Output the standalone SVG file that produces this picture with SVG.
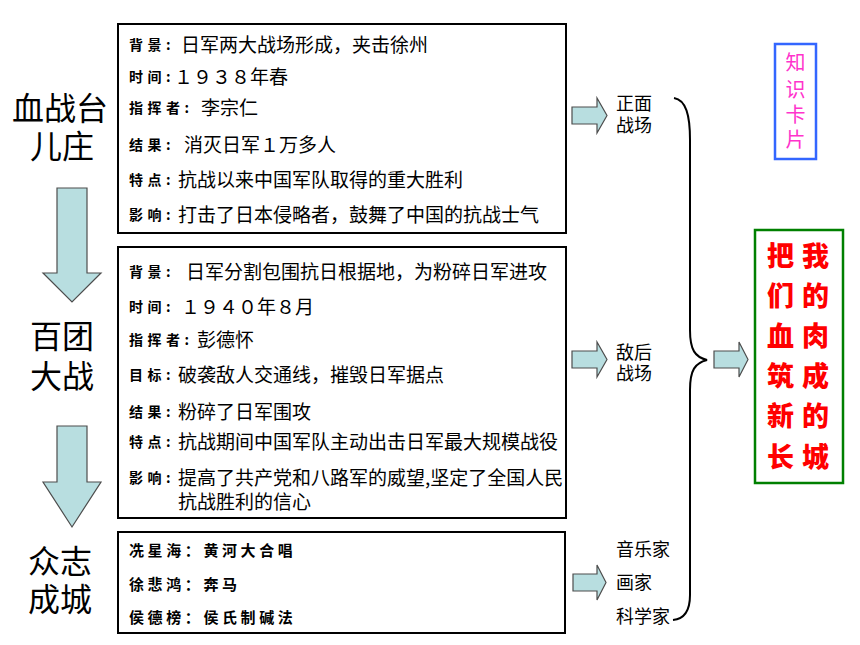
<svg xmlns="http://www.w3.org/2000/svg" width="860" height="645" viewBox="0 0 860 645">
<style>
.box{fill:#fff;stroke:#000;stroke-width:2}
.arr{fill:#B8DEE0;stroke:#4d4d4d;stroke-width:1.2}
.t{font-family:"Noto Sans CJK SC","Noto Sans",sans-serif;font-size:19px;fill:#000}
.lb{font-family:"Noto Sans CJK SC","Noto Sans",sans-serif;font-size:14px;font-weight:700;letter-spacing:4.5px;fill:#000}
.b3{font-family:"Noto Sans CJK SC","Noto Sans",sans-serif;font-size:15px;font-weight:700;letter-spacing:3.6px;fill:#000}
.big{font-family:"Noto Sans CJK SC","Noto Sans",sans-serif;font-size:32px;fill:#000;text-anchor:middle}
.side{font-family:"Noto Sans CJK SC","Noto Sans",sans-serif;font-size:18px;fill:#000}
.card{font-family:"Noto Sans CJK SC","Noto Sans",sans-serif;font-size:20px;fill:#FF33CC;text-anchor:middle}
.red{font-family:"Noto Sans CJK SC","Noto Sans",sans-serif;font-size:27px;font-weight:900;fill:#FF0000;letter-spacing:8px}
</style>
<rect width="860" height="645" fill="#fff"/>

<g id="title1">
<text class="big"><tspan x="60" y="120">血战台</tspan><tspan x="62" y="158">儿庄</tspan></text>
</g>
<g id="title2">
<text class="big"><tspan x="62" y="348">百团</tspan><tspan x="62" y="388">大战</tspan></text>
</g>
<g id="title3">
<text class="big"><tspan x="60" y="573">众志</tspan><tspan x="60" y="611">成城</tspan></text>
</g>

<g id="box1">
<rect class="box" x="118" y="24" width="448" height="209"/>
<text class="lb" x="129" y="50">背景:</text><text class="t" x="181" y="52">日军两大战场形成，夹击徐州</text>
<text class="lb" x="129" y="82">时间:</text><text class="t" x="174" y="84">１９３８年春</text>
<text class="lb" x="129" y="113">指挥者:</text><text class="t" x="201" y="115">李宗仁</text>
<text class="lb" x="129" y="150">结果:</text><text class="t" x="184" y="152">消灭日军１万多人</text>
<text class="lb" x="129" y="185">特点:</text><text class="t" x="178" y="187">抗战以来中国军队取得的重大胜利</text>
<text class="lb" x="129" y="220">影响:</text><text class="t" x="178" y="222">打击了日本侵略者，鼓舞了中国的抗战士气</text>
</g>

<g id="box2">
<rect class="box" x="118" y="247" width="448" height="271"/>
<text class="lb" x="129" y="277">背景:</text><text class="t" x="186" y="279">日军分割包围抗日根据地，为粉碎日军进攻</text>
<text class="lb" x="129" y="312">时间:</text><text class="t" x="181" y="314">１９４０年８月</text>
<text class="lb" x="129" y="345">指挥者:</text><text class="t" x="197" y="347">彭德怀</text>
<text class="lb" x="129" y="380">目标:</text><text class="t" x="178" y="382">破袭敌人交通线，摧毁日军据点</text>
<text class="lb" x="129" y="417">结果:</text><text class="t" x="178" y="419">粉碎了日军围攻</text>
<text class="lb" x="129" y="447">特点:</text><text class="t" x="178" y="449">抗战期间中国军队主动出击日军最大规模战役</text>
<text class="lb" x="129" y="483">影响:</text><text class="t"><tspan x="178" y="485">提高了共产党和八路军的威望,坚定了全国人民</tspan><tspan x="178" y="509">抗战胜利的信心</tspan></text>
</g>

<g id="box3">
<rect class="box" x="118" y="532" width="447" height="101"/>
<text class="b3" x="129" y="556">冼星海：黄河大合唱</text>
<text class="b3" x="129" y="590">徐悲鸿：奔马</text>
<text class="b3" x="129" y="623">侯德榜：侯氏制碱法</text>
</g>

<g id="label-front">
<text class="side"><tspan x="616" y="110">正面</tspan><tspan x="616" y="132">战场</tspan></text>
</g>
<g id="label-rear">
<text class="side"><tspan x="616" y="359">敌后</tspan><tspan x="616" y="380">战场</tspan></text>
</g>
<g id="label-people">
<text class="side" x="616" y="556">音乐家</text>
<text class="side" x="616" y="589">画家</text>
<text class="side" x="616" y="623">科学家</text>
</g>

<g id="card">
<rect x="775" y="44" width="41" height="115" fill="#fff" stroke="#3366FF" stroke-width="2.5"/>
<text class="card"><tspan x="795.5" y="70">知</tspan><tspan x="795.5" y="97">识</tspan><tspan x="795.5" y="122">卡</tspan><tspan x="795.5" y="147">片</tspan></text>
</g>

<g id="conclusion">
<rect x="755" y="230" width="88" height="253" fill="#fff" stroke="#008000" stroke-width="2.5"/>
<text class="red"><tspan x="767" y="266">把我</tspan><tspan x="767" y="306">们的</tspan><tspan x="767" y="346">血肉</tspan><tspan x="767" y="386">筑成</tspan><tspan x="767" y="426">新的</tspan><tspan x="767" y="467">长城</tspan></text>
</g>

<g id="connectors">
<polygon class="arr" points="57,188 87,188 87,273 101,273 72,302 43,273 57,273"/>
<polygon class="arr" points="57,426 87,426 87,482 101,482 72,527 43,482 57,482"/>
<polygon class="arr" points="572,107 597,107 597,98 607,115.5 597,133 597,124 572,124"/>
<polygon class="arr" points="572,351 597,351 597,342 607,359.5 597,377 597,368 572,368"/>
<polygon class="arr" points="573,574 597,574 597,565 606,582.5 597,600 597,591 573,591"/>
<polygon class="arr" points="714,351 739,351 739,342 748,359.5 739,377 739,368 714,368"/>
<path d="M674,98 C686,100 690,115 690,140 L690,330 C690,350 695,357 707,360 C695,363 690,370 690,390 L690,595 C690,612 684,619 673,620" fill="none" stroke="#000" stroke-width="2"/>
</g>
</svg>
